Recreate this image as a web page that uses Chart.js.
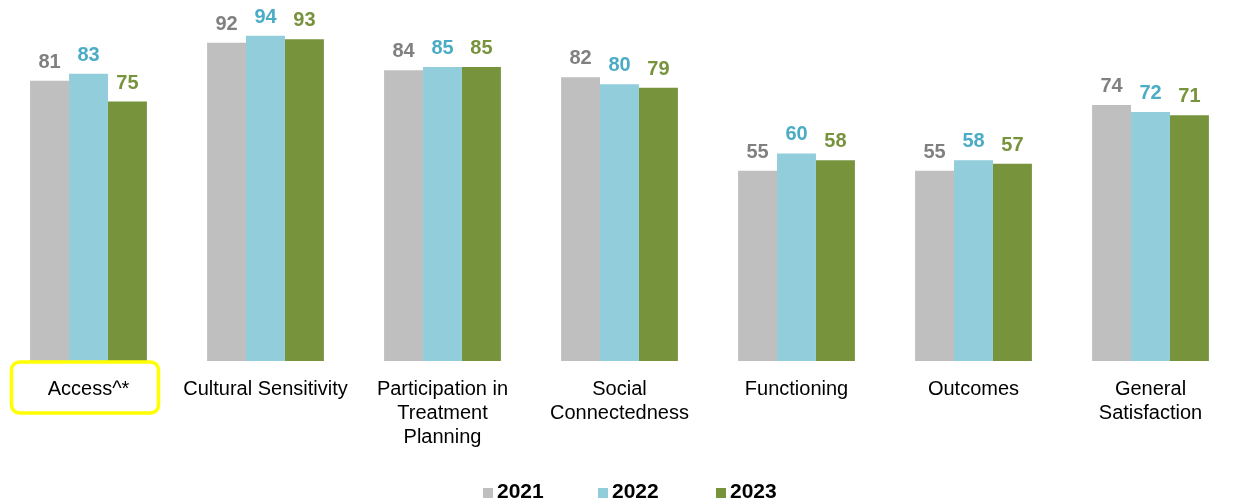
<!DOCTYPE html>
<html>
<head>
<meta charset="utf-8">
<script src="https://cdn.jsdelivr.net/npm/chart.js@4.4.0/dist/chart.umd.min.js"></script>
<style>
  html, body { margin: 0; padding: 0; background: #fff; }
  #wrap { width: 1239px; height: 504px; position: relative; }
</style>
</head>
<body>
<div id="wrap"><canvas id="chart"></canvas></div>
<script>
// Domain labels (multi-line where wrapped)
const categories = [
  'Access^*',
  'Cultural Sensitivity',
  ['Participation in', 'Treatment', 'Planning'],
  ['Social', 'Connectedness'],
  'Functioning',
  'Outcomes',
  ['General', 'Satisfaction']
];

const years = ['2021', '2022', '2023'];
const values2021 = [81, 92, 84, 82, 55, 55, 74];
const values2022 = [83, 94, 85, 80, 60, 58, 72];
const values2023 = [75, 93, 85, 79, 58, 57, 71];

const barColors = ['#bfbfbf', '#92cddc', '#77933c'];
const labelColors = ['#808080', '#4bacc6', '#77933c'];
const FONT = '"Liberation Sans", Arial, sans-serif';

// Prints the value above each bar in the series colour
const valueLabels = {
  id: 'valueLabels',
  afterDatasetsDraw(chart) {
    const ctx = chart.ctx;
    ctx.save();
    ctx.font = 'bold 20px ' + FONT;
    ctx.textAlign = 'center';
    ctx.textBaseline = 'alphabetic';
    chart.data.datasets.forEach((ds, i) => {
      chart.getDatasetMeta(i).data.forEach((bar, j) => {
        ctx.fillStyle = labelColors[i];
        ctx.fillText(ds.data[j], bar.x, bar.y - 13);
      });
    });
    ctx.restore();
  }
};

// Yellow rounded box around the first category label
const highlightBox = {
  id: 'highlightBox',
  afterDraw(chart) {
    const x = chart.scales.x.getPixelForValue(0);
    const top = chart.chartArea.bottom + 1;
    const ctx = chart.ctx;
    ctx.save();
    ctx.strokeStyle = '#ffff00';
    ctx.lineWidth = 3.5;
    ctx.beginPath();
    ctx.roundRect(x - 77, top, 147, 51, 8);
    ctx.stroke();
    ctx.restore();
  }
};

// Widely spaced legend along the bottom edge
const bottomLegend = {
  id: 'bottomLegend',
  afterDraw(chart) {
    const ctx = chart.ctx;
    const y = chart.height - 13;
    const starts = [483, 598, 716];
    ctx.save();
    ctx.font = 'bold 21px ' + FONT;
    ctx.textAlign = 'left';
    ctx.textBaseline = 'middle';
    chart.data.datasets.forEach((ds, i) => {
      ctx.fillStyle = ds.backgroundColor;
      ctx.fillRect(starts[i], y - 3, 10, 10);
      ctx.fillStyle = '#000';
      ctx.fillText(ds.label, starts[i] + 14, y + 1);
    });
    ctx.restore();
  }
};

const ctx = document.getElementById('chart').getContext('2d');
new Chart(ctx, {
  type: 'bar',
  data: {
    labels: categories,
    datasets: [values2021, values2022, values2023].map((vals, i) => ({
      label: years[i],
      data: vals,
      backgroundColor: barColors[i],
      borderWidth: 0,
      categoryPercentage: 0.66,
      barPercentage: 1.0
    }))
  },
  options: {
    responsive: true,
    maintainAspectRatio: false,
    animation: false,
    layout: { padding: { top: 15, left: 0, right: 0, bottom: 47 } },
    plugins: {
      legend: { display: false },
      tooltip: { enabled: false }
    },
    scales: {
      y: {
        display: false,
        min: 0,
        max: 100
      },
      x: {
        grid: { display: false },
        border: { display: false },
        ticks: {
          color: '#000',
          padding: 8,
          maxRotation: 0,
          autoSkip: false,
          font: { family: FONT, size: 20, lineHeight: '24px' }
        }
      }
    }
  },
  plugins: [valueLabels, highlightBox, bottomLegend]
});
</script>
</body>
</html>
